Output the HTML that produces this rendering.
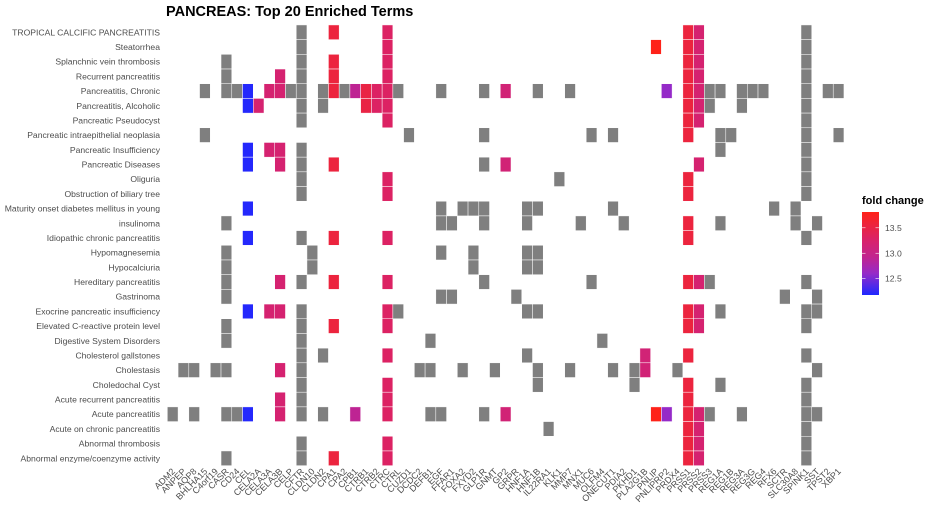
<!DOCTYPE html>
<html><head><meta charset="utf-8"><style>
html,body{margin:0;padding:0;background:#fff}
svg{display:block;font-family:"Liberation Sans",Arial,sans-serif}
</style></head><body>
<svg id="chart" width="938" height="516" viewBox="0 0 938 516" xmlns="http://www.w3.org/2000/svg">
<text x="166" y="16" font-size="14.5" font-weight="bold" fill="#000">PANCREAS: Top 20 Enriched Terms</text>
<g id="cells"></g>
<g id="ylabels"></g>
<g id="xlabels"></g>
<g>
<text x="862" y="204" font-size="11" font-weight="bold" fill="#000">fold change</text>
<defs><linearGradient id="lg" x1="0" y1="1" x2="0" y2="0">
<stop offset="0" stop-color="rgb(30,40,255)"/><stop offset="0.26" stop-color="rgb(150,42,200)"/><stop offset="0.45" stop-color="rgb(192,36,145)"/><stop offset="0.66" stop-color="rgb(217,34,106)"/><stop offset="0.84" stop-color="rgb(236,36,62)"/><stop offset="1" stop-color="rgb(255,34,24)"/>
</linearGradient></defs>
<rect x="862" y="212" width="17" height="83" fill="url(#lg)"/>
<g id="legticks"></g>
</g>
</svg>
<script>
const genes = ["ADM2","ANPEP","AQP8","BHLHA15","C4orf19","CASR","CD24","CEL","CELA2A","CELA3A","CELA3B","CELP","CFTR","CLDN10","CLDN2","CPA1","CPA2","CPB1","CTRB1","CTRB2","CTRC","CTRL","CUZD1","DCDC2","DEFB1","EGF","FFAR1","FOXA2","FXYD2","GLP1R","GNMT","GP2","GRPR","HNF1A","HNF1B","IL22RA1","KLK1","MMP7","MNX1","MUC6","OLFM4","ONECUT1","PDIA2","PKHD1","PLA2G1B","PNLIP","PNLIPRP2","PRDX4","PRSS1","PRSS2","PRSS3","REG1A","REG1B","REG3A","REG3G","REG4","RFX6","SCTR","SLC30A8","SPINK1","SST","TPST2","XBP1"];
const foldChangeGenes = ["CEL","CELA2A","CELA3A","CELA3B","CPA1","CPB1","CTRB1","CTRB2","CTRC","GP2","PLA2G1B","PNLIP","PNLIPRP2","PRSS1","PRSS2"];
const foldChangeValues = [12.2,13.2,13.2,13.2,13.55,12.9,13.5,13.3,13.3,13.15,13.15,13.8,12.6,13.55,13.2];
const terms = ["TROPICAL CALCIFIC PANCREATITIS","Steatorrhea","Splanchnic vein thrombosis","Recurrent pancreatitis","Pancreatitis, Chronic","Pancreatitis, Alcoholic","Pancreatic Pseudocyst","Pancreatic intraepithelial neoplasia","Pancreatic Insufficiency","Pancreatic Diseases","Oliguria","Obstruction of biliary tree","Maturity onset diabetes mellitus in young","insulinoma","Idiopathic chronic pancreatitis","Hypomagnesemia","Hypocalciuria","Hereditary pancreatitis","Gastrinoma","Exocrine pancreatic insufficiency","Elevated C-reactive protein level","Digestive System Disorders","Cholesterol gallstones","Cholestasis","Choledochal Cyst","Acute recurrent pancreatitis","Acute pancreatitis","Acute on chronic pancreatitis","Abnormal thrombosis","Abnormal enzyme/coenzyme activity"];
const termGenes = [
[12,15,20,48,49,59],
[12,20,45,48,49,59],
[5,12,15,20,48,49,59],
[5,10,12,15,20,48,49,59],
[3,5,6,7,9,10,11,12,14,15,16,17,18,19,20,21,25,29,31,34,37,46,48,49,50,51,53,54,55,59,61,62],
[7,8,12,14,18,19,20,48,49,50,53,59],
[12,20,48,49,59],
[3,22,29,39,41,48,51,52,59,62],
[7,9,10,12,51,59],
[7,10,12,15,29,31,49,59],
[12,20,36,48,59],
[12,20,48,59],
[7,25,27,28,29,33,34,41,56,58],
[5,25,26,29,33,38,42,48,51,58,60],
[7,12,15,20,48,59],
[5,13,25,28,33,34],
[5,13,28,33,34],
[5,10,12,15,20,29,39,48,49,50,59],
[5,25,26,32,57,60],
[7,9,10,12,20,21,33,34,48,49,51,59,60],
[5,12,15,20,48,49,59],
[5,12,24,40],
[12,14,20,33,44,48,59],
[1,2,4,5,10,12,23,24,27,30,34,37,41,43,44,47,60],
[12,20,34,43,48,51,59],
[10,12,20,48,59],
[0,2,5,6,7,10,12,14,17,20,24,25,29,31,45,46,48,49,50,53,59,60],
[35,48,49,59],
[12,20,48,49,59],
[5,12,15,20,48,49,59]];
const legendTicks = [12.5,13.0,13.5];

const NS="http://www.w3.org/2000/svg";
const colW=10.74, rowH=14.69, x0=172.7, y0=32.3;
const xS=i=>x0+i*colW, yS=r=>y0+r*rowH;
const fcMin=12.18, fcMax=13.81;
const legY=v=>295-(v-fcMin)/(fcMax-fcMin)*83;
const stops=[[0,[30,40,255]],[0.26,[150,42,200]],[0.45,[192,36,145]],[0.66,[217,34,106]],[0.84,[236,36,62]],[1,[255,34,24]]];
function col(v){let t=Math.max(0,Math.min(1,(v-fcMin)/(fcMax-fcMin)));
 for(let k=1;k<stops.length;k++){if(t<=stops[k][0]){const a=stops[k-1],b=stops[k],f=(t-a[0])/(b[0]-a[0]);
 return "rgb("+a[1].map((c,j)=>Math.round(c+(b[1][j]-c)*f)).join(",")+")";}}return "rgb(255,34,24)";}
function mk(t,a){const e=document.createElementNS(NS,t);for(const k in a)e.setAttribute(k,a[k]);return e;}
const cells=document.getElementById('cells');
termGenes.forEach((gl,r)=>{gl.forEach(i=>{
 const fi=foldChangeGenes.indexOf(genes[i]);
 const fill=fi>=0?col(foldChangeValues[fi]):"#7f7f7f";
 const el=mk('rect',{x:(xS(i)-colW/2).toFixed(2),y:(yS(r)-rowH/2).toFixed(2),width:colW.toFixed(2),height:rowH.toFixed(2),fill:fill,stroke:"#fff","stroke-width":"0.5"});
 
 
 cells.appendChild(el);});});
const yl=document.getElementById('ylabels');
terms.forEach((t,r)=>{const el=mk('text',{x:160,y:(yS(r)+3).toFixed(2),"text-anchor":"end","font-size":"8.6",fill:"#4d4d4d"});
 el.textContent=t;
 
 
 yl.appendChild(el);});
const xl=document.getElementById('xlabels');
genes.forEach((g,i)=>{const x=xS(i)+3,y=472;
 const el=mk('text',{x:x.toFixed(2),y:y,"text-anchor":"end","font-size":"9",fill:"#4d4d4d",transform:"rotate(-45 "+x.toFixed(2)+" "+y+")"});
 el.textContent=g;
 
 
 xl.appendChild(el);});
const lt=document.getElementById('legticks');
legendTicks.forEach(v=>{const y=legY(v);
 const l1=mk('line',{x1:862,x2:865.5,y1:y,y2:y,stroke:"#fff","stroke-width":"0.6"});
 const l2=mk('line',{x1:875.5,x2:879,y1:y,y2:y,stroke:"#fff","stroke-width":"0.6"});
 lt.appendChild(l1);lt.appendChild(l2);
 const tx=mk('text',{x:885,y:(y+3).toFixed(2),"font-size":"8.6",fill:"#4d4d4d"});
 tx.textContent=v.toFixed(1);
 
 
 lt.appendChild(tx);});
</script>
</body></html>
